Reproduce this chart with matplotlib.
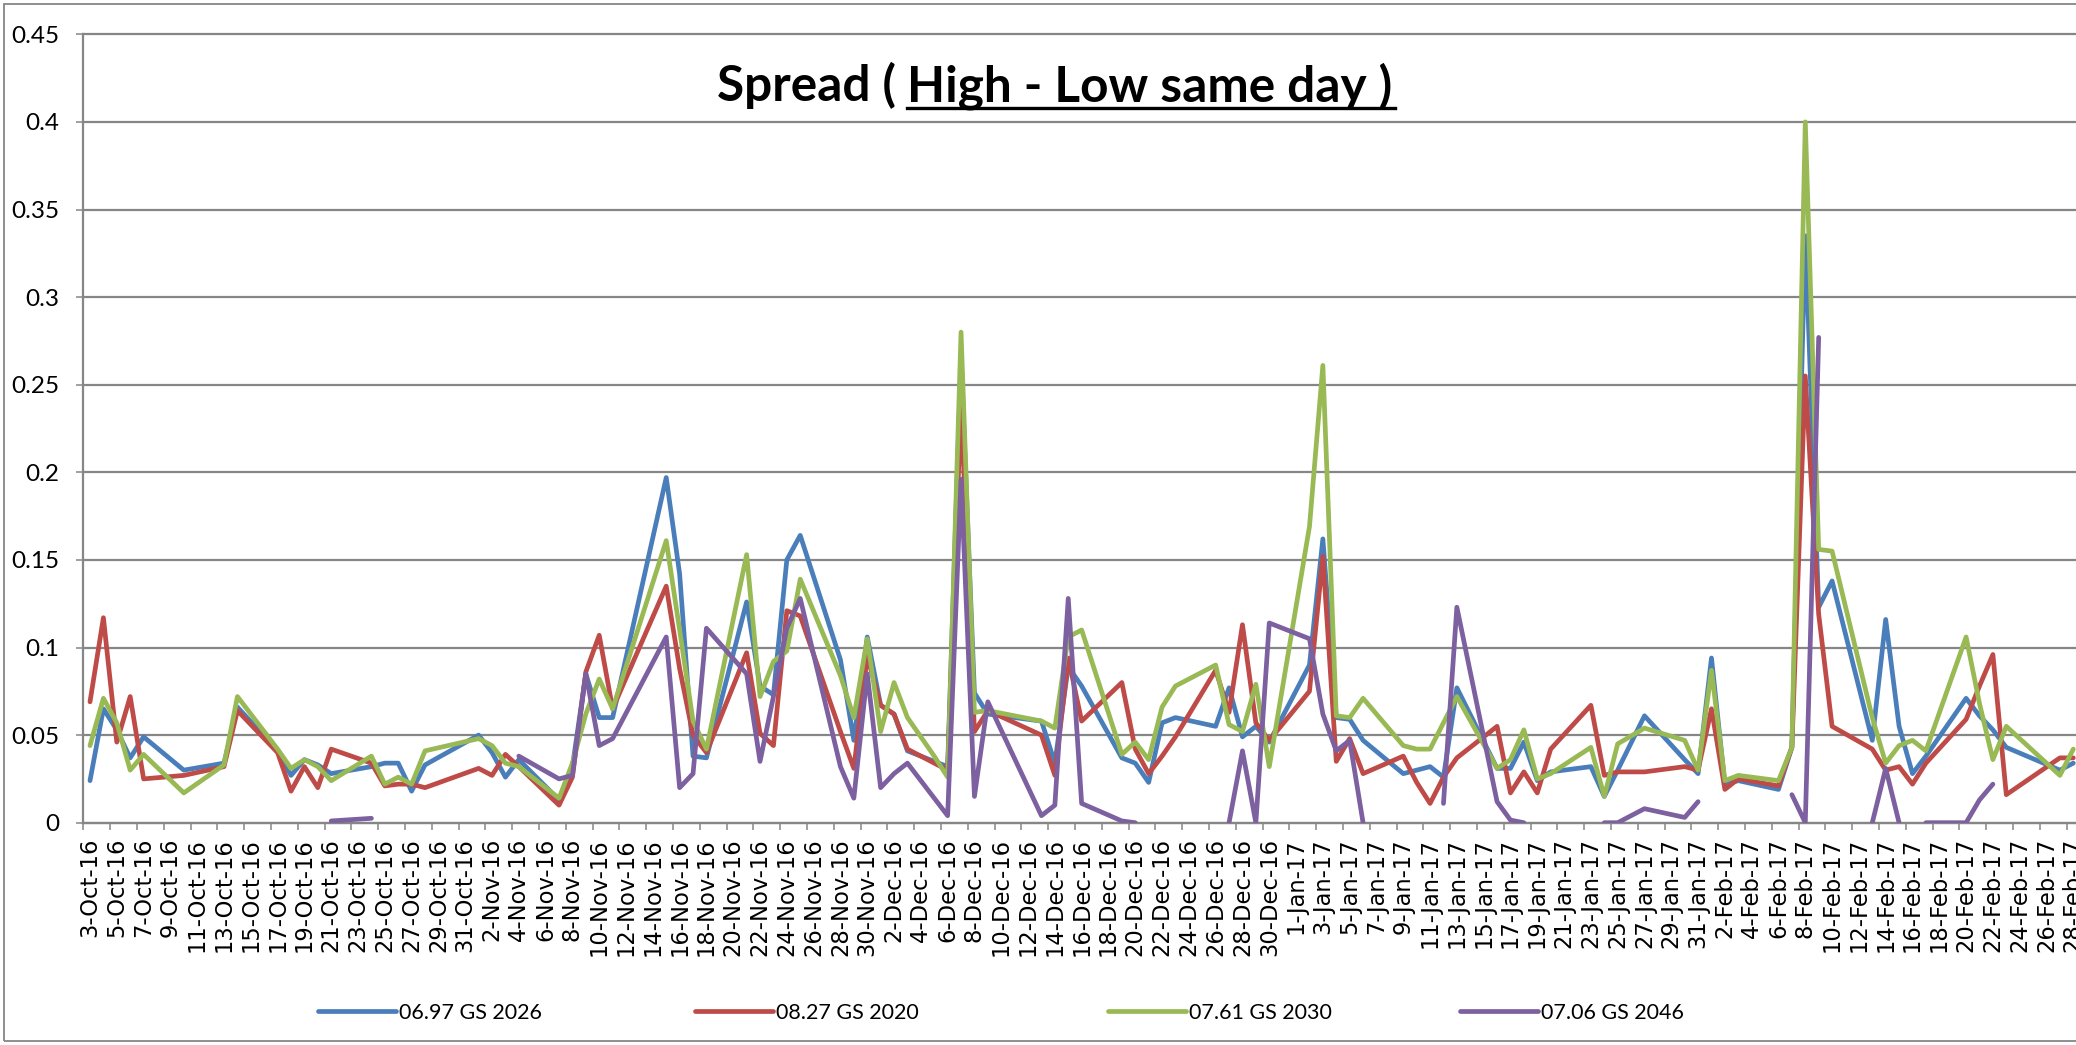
import datetime as dt
import numpy as np
import matplotlib
matplotlib.use("Agg")
import matplotlib.pyplot as plt
from matplotlib.lines import Line2D
from matplotlib.patches import Rectangle

nan = np.nan

# ---------------- data ----------------
dates = [
    # Oct 2016
    "2016-10-03", "2016-10-04", "2016-10-05", "2016-10-06", "2016-10-07", "2016-10-10",
    "2016-10-13", "2016-10-14", "2016-10-17", "2016-10-18", "2016-10-19", "2016-10-20",
    "2016-10-21", "2016-10-24", "2016-10-25", "2016-10-26", "2016-10-27", "2016-10-28",
    # Nov 2016
    "2016-11-01", "2016-11-02", "2016-11-03", "2016-11-04", "2016-11-07", "2016-11-08",
    "2016-11-09", "2016-11-10", "2016-11-11", "2016-11-15", "2016-11-16", "2016-11-17",
    "2016-11-18", "2016-11-21", "2016-11-22", "2016-11-23", "2016-11-24", "2016-11-25",
    "2016-11-28", "2016-11-29", "2016-11-30",
    # Dec 2016
    "2016-12-01", "2016-12-02", "2016-12-03", "2016-12-05", "2016-12-06", "2016-12-07",
    "2016-12-08", "2016-12-09", "2016-12-13", "2016-12-14", "2016-12-15", "2016-12-16",
    "2016-12-19", "2016-12-20", "2016-12-21", "2016-12-22", "2016-12-23", "2016-12-26",
    "2016-12-27", "2016-12-28", "2016-12-29", "2016-12-30",
    # Jan 2017
    "2017-01-02", "2017-01-03", "2017-01-04", "2017-01-05", "2017-01-06", "2017-01-09",
    "2017-01-10", "2017-01-11", "2017-01-12", "2017-01-13", "2017-01-16", "2017-01-17",
    "2017-01-18", "2017-01-19", "2017-01-20", "2017-01-23", "2017-01-24", "2017-01-25",
    "2017-01-27", "2017-01-30", "2017-01-31",
    # Feb 2017
    "2017-02-01", "2017-02-02", "2017-02-03", "2017-02-06", "2017-02-07", "2017-02-08",
    "2017-02-09", "2017-02-10", "2017-02-13", "2017-02-14", "2017-02-15", "2017-02-16",
    "2017-02-17", "2017-02-20", "2017-02-21", "2017-02-22", "2017-02-23", "2017-02-27",
    "2017-02-28",
]

gs_2026 = [
    0.024, 0.065, 0.053, 0.037, 0.049, 0.030, 0.034, 0.066, 0.041, 0.027, 0.036, 0.033,
    0.028, 0.032, 0.034, 0.034, 0.018, 0.033,
    0.050, 0.040, 0.026, 0.036, 0.013, 0.032, 0.085, 0.060, 0.060, 0.197, 0.142, 0.038,
    0.037, 0.126, 0.078, 0.073, 0.150, 0.164, 0.093, 0.047, 0.106,
    0.067, 0.062, 0.041, 0.035, 0.032, 0.265, 0.074, 0.062, 0.058, 0.034, 0.089, 0.078,
    0.037, 0.034, 0.023, 0.057, 0.060, 0.055, 0.077, 0.049, 0.055, 0.046,
    0.090, 0.162, 0.060, 0.059, 0.047, 0.028, 0.030, 0.032, 0.026, 0.077, 0.031, 0.031,
    0.046, 0.024, 0.029, 0.032, 0.015, 0.030, 0.061, 0.036, 0.028,
    0.094, 0.022, 0.024, 0.019, 0.043, 0.335, 0.123, 0.138, 0.047, 0.116, 0.055, 0.028,
    0.038, 0.071, 0.061, 0.053, 0.043, 0.030, 0.034,
]

gs_2020 = [
    0.069, 0.117, 0.046, 0.072, 0.025, 0.027, 0.032, 0.064, 0.040, 0.018, 0.032, 0.020,
    0.042, 0.034, 0.021, 0.022, 0.022, 0.020,
    0.031, 0.027, 0.039, 0.032, 0.010, 0.026, 0.086, 0.107, 0.065, 0.135, 0.088, 0.050,
    0.040, 0.097, 0.051, 0.044, 0.121, 0.118, 0.052, 0.031, 0.095,
    0.067, 0.062, 0.042, 0.034, 0.030, 0.240, 0.052, 0.064, 0.050, 0.027, 0.094, 0.058,
    0.080, 0.042, 0.028, 0.038, 0.049, 0.087, 0.063, 0.113, 0.057, 0.047,
    0.075, 0.152, 0.035, 0.048, 0.028, 0.038, 0.023, 0.011, 0.026, 0.037, 0.055, 0.017,
    0.029, 0.017, 0.042, 0.067, 0.027, 0.029, 0.029, 0.032, 0.030,
    0.065, 0.019, 0.025, 0.021, 0.043, 0.255, 0.119, 0.055, 0.042, 0.030, 0.032, 0.022,
    0.034, 0.059, 0.078, 0.096, 0.016, 0.037, 0.037,
]

gs_2030 = [
    0.044, 0.071, 0.057, 0.030, 0.039, 0.017, 0.033, 0.072, 0.042, 0.031, 0.036, 0.032,
    0.024, 0.038, 0.022, 0.026, 0.022, 0.041,
    0.048, 0.044, 0.034, 0.032, 0.014, 0.034, 0.062, 0.082, 0.065, 0.161, 0.110, 0.058,
    0.042, 0.153, 0.072, 0.092, 0.098, 0.139, 0.084, 0.060, 0.105,
    0.052, 0.080, 0.060, 0.038, 0.026, 0.280, 0.063, 0.064, 0.058, 0.054, 0.106, 0.110,
    0.039, 0.046, 0.036, 0.066, 0.078, 0.090, 0.056, 0.052, 0.079, 0.032,
    0.169, 0.261, 0.061, 0.060, 0.071, 0.044, 0.042, 0.042, 0.057, 0.072, 0.031, 0.036,
    0.053, 0.025, 0.028, 0.043, 0.015, 0.045, 0.054, 0.047, 0.030,
    0.087, 0.024, 0.027, 0.024, 0.043, 0.400, 0.156, 0.155, 0.060, 0.034, 0.044, 0.047,
    0.041, 0.106, 0.068, 0.036, 0.055, 0.027, 0.042,
]

gs_2046 = [
    nan, nan, nan, nan, nan, nan, nan, nan, nan, nan, nan, nan,
    0.001, 0.0025, nan, nan, nan, nan,
    nan, nan, nan, 0.038, 0.025, 0.027, 0.085, 0.044, 0.048, 0.106, 0.020, 0.028,
    0.111, 0.085, 0.035, 0.072, 0.111, 0.128, 0.032, 0.014, 0.085,
    0.020, 0.028, 0.034, 0.014, 0.004, 0.196, 0.015, 0.069, 0.004, 0.010, 0.128, 0.011,
    0.001, 0.000, nan, nan, nan, nan, 0.000, 0.041, 0.000, 0.114,
    0.105, 0.062, 0.041, 0.047, 0.000, nan, nan, nan, 0.011, 0.123, 0.012, 0.0015,
    0.000, nan, nan, nan, 0.000, 0.000, 0.008, 0.003, 0.012,
    nan, nan, nan, nan, 0.016, 0.000, 0.277, nan, 0.000, 0.031, 0.000, nan,
    0.000, 0.000, 0.013, 0.022, nan, nan, nan,
]

series_names = ["06.97 GS 2026", "08.27 GS 2020", "07.61 GS 2030", "07.06 GS 2046"]
series_values = [gs_2026, gs_2020, gs_2030, gs_2046]
series_colors = ["#4A7EBB", "#BE4B48", "#98B954", "#7D60A0"]

y_ticks = [0, 0.05, 0.1, 0.15, 0.2, 0.25, 0.3, 0.35, 0.4, 0.45]
title_plain = "Spread ("
title_underlined = "High - Low same day )"

# ---------------- layout ----------------
W, H = 2076, 1045
start = dt.date(2016, 10, 3)
end_day = 148  # 28-Feb-17
x = np.array([(dt.date.fromisoformat(d) - start).days for d in dates], dtype=float)

fig = plt.figure(figsize=(W / 100, H / 100), dpi=100)
fig.patch.set_facecolor("white")

ax_l, ax_r, ax_t, ax_b = 83.3, 2080.0, 34.3, 822.7
ax = fig.add_axes([ax_l / W, 1 - ax_b / H, (ax_r - ax_l) / W, (ax_b - ax_t) / H])
ax.set_xlim(-0.5, end_day + 0.5)
ax.set_ylim(0, 0.45)

grid_c = "#868686"
for val, name, col in zip(series_values, series_names, series_colors):
    ax.plot(x, np.array(val, dtype=float), color=col, lw=3.4, label=name,
            solid_joinstyle="round", solid_capstyle="round", zorder=3)

# y axis
ax.set_yticks(y_ticks)
ax.set_yticklabels([f"{v:g}" for v in y_ticks], family="Lato", fontsize=17.5)
ax.tick_params(axis="y", direction="out", length=5.2, width=1.1, color=grid_c, pad=12)
ax.yaxis.grid(True, color=grid_c, lw=1.6, zorder=1)
for gl in ax.get_ygridlines():
    gl.set_clip_on(False)
ax.set_axisbelow(True)

# x axis: labels at every 2nd day, tick marks at slot boundaries
lab_days = np.arange(0, end_day + 1, 2)
lab_txt = []
for d in lab_days:
    dd = start + dt.timedelta(days=int(d))
    lab_txt.append(f"{dd.day}-{dd.strftime('%b')}-{dd.strftime('%y')}")
ax.set_xticks(lab_days)
ax.set_xticklabels(lab_txt, rotation=90, family="DejaVu Sans", fontsize=16.3, va="top", ha="center")
ax.tick_params(axis="x", which="major", length=0, pad=11)
ax.set_xticks(np.arange(-0.5, end_day + 0.6, 2), minor=True)
ax.tick_params(axis="x", which="minor", direction="out", length=5.2, width=1.1, color=grid_c)

for s in ["top", "right"]:
    ax.spines[s].set_visible(False)
for s in ["left", "bottom"]:
    ax.spines[s].set_color(grid_c)
    ax.spines[s].set_linewidth(1.6)

# ---------------- title with underline ----------------
renderer = fig.canvas.get_renderer()
tkw = dict(family="Lato", weight="bold", color="black")
probe = fig.text(0, 0, title_plain + " " + title_underlined, fontsize=34, **tkw)
w_probe = probe.get_window_extent(renderer).width
probe.remove()
tsize = 34 * 677.0 / w_probe

t1 = fig.text(0, 0, title_plain, fontsize=tsize, **tkw)
t2 = fig.text(0, 0, title_underlined, fontsize=tsize, **tkw)
w1 = t1.get_window_extent(renderer).width
w2 = t2.get_window_extent(renderer).width
space = 0.22 * tsize * 100 / 72
total = w1 + space + w2
cx, base_y = 1055.0, 101.0
x0 = cx - total / 2
t1.set_position((x0 / W, 1 - base_y / H))
t1.set_va("baseline")
t2.set_position(((x0 + w1 + space) / W, 1 - base_y / H))
t2.set_va("baseline")
ul_y = 1 - 108.0 / H
fig.add_artist(Line2D([(x0 + w1 + space) / W, (x0 + total + 2) / W], [ul_y, ul_y],
                      transform=fig.transFigure, color="black", lw=2.4))

# ---------------- legend ----------------
handles = ax.get_lines()
leg_x = [318, 695, 1108, 1460]
for h, lx in zip(handles, leg_x):
    fig.legend([h], [h.get_label()], loc="center left",
               bbox_to_anchor=(lx / W, 1 - 1013.0 / H), frameon=False,
               borderpad=0, borderaxespad=0, handlelength=3.6, handletextpad=0.15,
               prop={"family": "Lato", "size": 15.5})

# chart border
fig.add_artist(Rectangle((4 / W, 1 - 1041 / H), 1.2, (1041 - 4) / H, transform=fig.transFigure,
                         fill=False, ec=grid_c, lw=1.3))

fig.savefig("out.png", dpi=100, facecolor="white")
